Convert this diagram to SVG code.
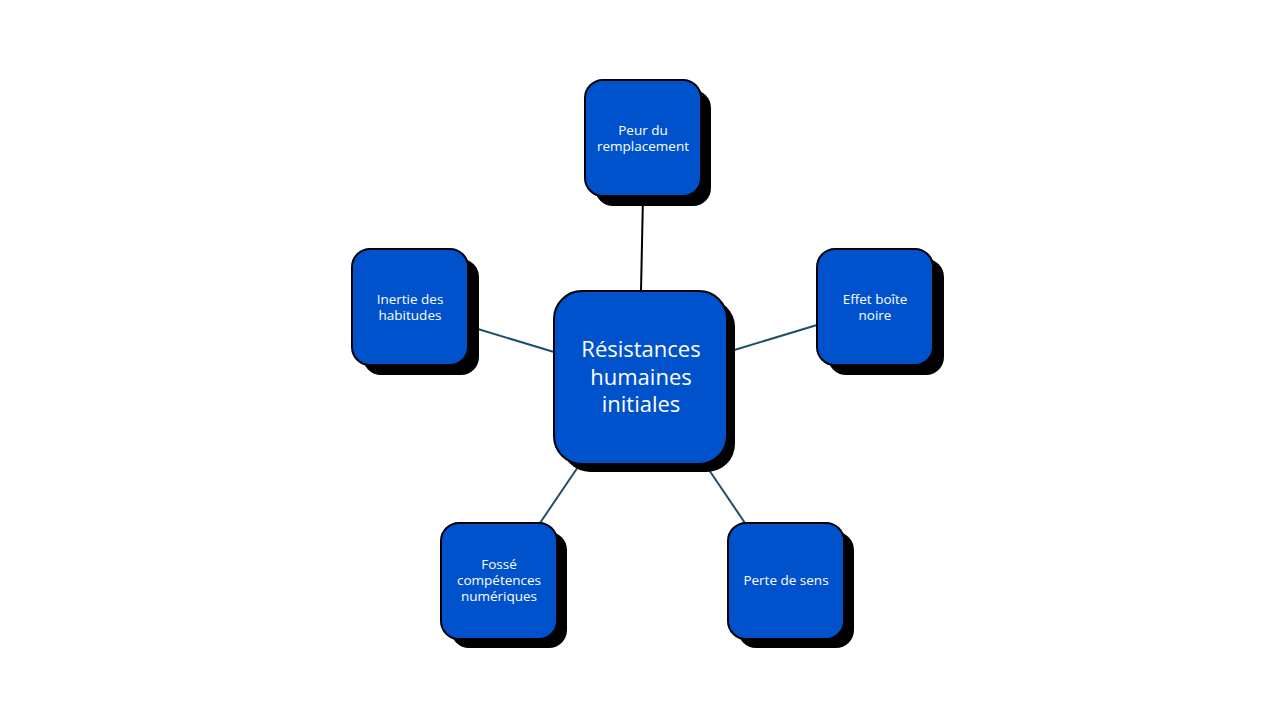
<svg xmlns="http://www.w3.org/2000/svg" width="1280" height="720" viewBox="0 0 1280 720">
<style>
.sh{fill:#000}
.bx{fill:#0052CC;stroke:#000;stroke-width:2}
.t{fill:#fff;font-family:"Open Sans","Liberation Sans",sans-serif;font-size:13.5px;text-anchor:middle}
.tc{fill:#fff;font-family:"Open Sans","Liberation Sans",sans-serif;font-size:22px;text-anchor:middle}
.c{stroke:#1F4E6B;stroke-width:2;fill:none}
</style>
<rect width="1280" height="720" fill="#fff"/>
<g id="connectors">
<line class="c" x1="643" y1="196" x2="641" y2="291" style="stroke:#000"/>
<line class="c" x1="468" y1="326" x2="554" y2="352"/>
<line class="c" x1="817" y1="325" x2="731" y2="351"/>
<line class="c" x1="540" y1="523" x2="580" y2="464"/>
<line class="c" x1="745" y1="523" x2="705" y2="464"/>
</g>
<g id="center">
<rect class="sh" x="562" y="299" width="173" height="173" rx="28"/>
<rect class="bx" x="554" y="291" width="173" height="173" rx="28"/>
<text class="tc" x="641" y="357">Résistances</text>
<text class="tc" x="641" y="384.5">humaines</text>
<text class="tc" x="641" y="412">initiales</text>
</g>
<g id="peur">
<rect class="sh" x="595" y="90" width="116" height="116" rx="18"/>
<rect class="bx" x="585" y="80" width="116" height="116" rx="18"/>
<text class="t" x="643" y="135">Peur du</text>
<text class="t" x="643" y="151">remplacement</text>
</g>
<g id="inertie">
<rect class="sh" x="363" y="259" width="116" height="116" rx="18"/>
<rect class="bx" x="352" y="249" width="116" height="116" rx="18"/>
<text class="t" x="410" y="304">Inertie des</text>
<text class="t" x="410" y="320">habitudes</text>
</g>
<g id="effet">
<rect class="sh" x="828" y="259" width="116" height="116" rx="18"/>
<rect class="bx" x="817" y="249" width="116" height="116" rx="18"/>
<text class="t" x="875" y="304">Effet boîte</text>
<text class="t" x="875" y="320">noire</text>
</g>
<g id="fosse">
<rect class="sh" x="451" y="532" width="116" height="116" rx="18"/>
<rect class="bx" x="441" y="523" width="116" height="116" rx="18"/>
<text class="t" x="499" y="569">Fossé</text>
<text class="t" x="499" y="585">compétences</text>
<text class="t" x="499" y="601">numériques</text>
</g>
<g id="perte">
<rect class="sh" x="738" y="532" width="116" height="116" rx="18"/>
<rect class="bx" x="728" y="523" width="116" height="116" rx="18"/>
<text class="t" x="786" y="585">Perte de sens</text>
</g>
</svg>
